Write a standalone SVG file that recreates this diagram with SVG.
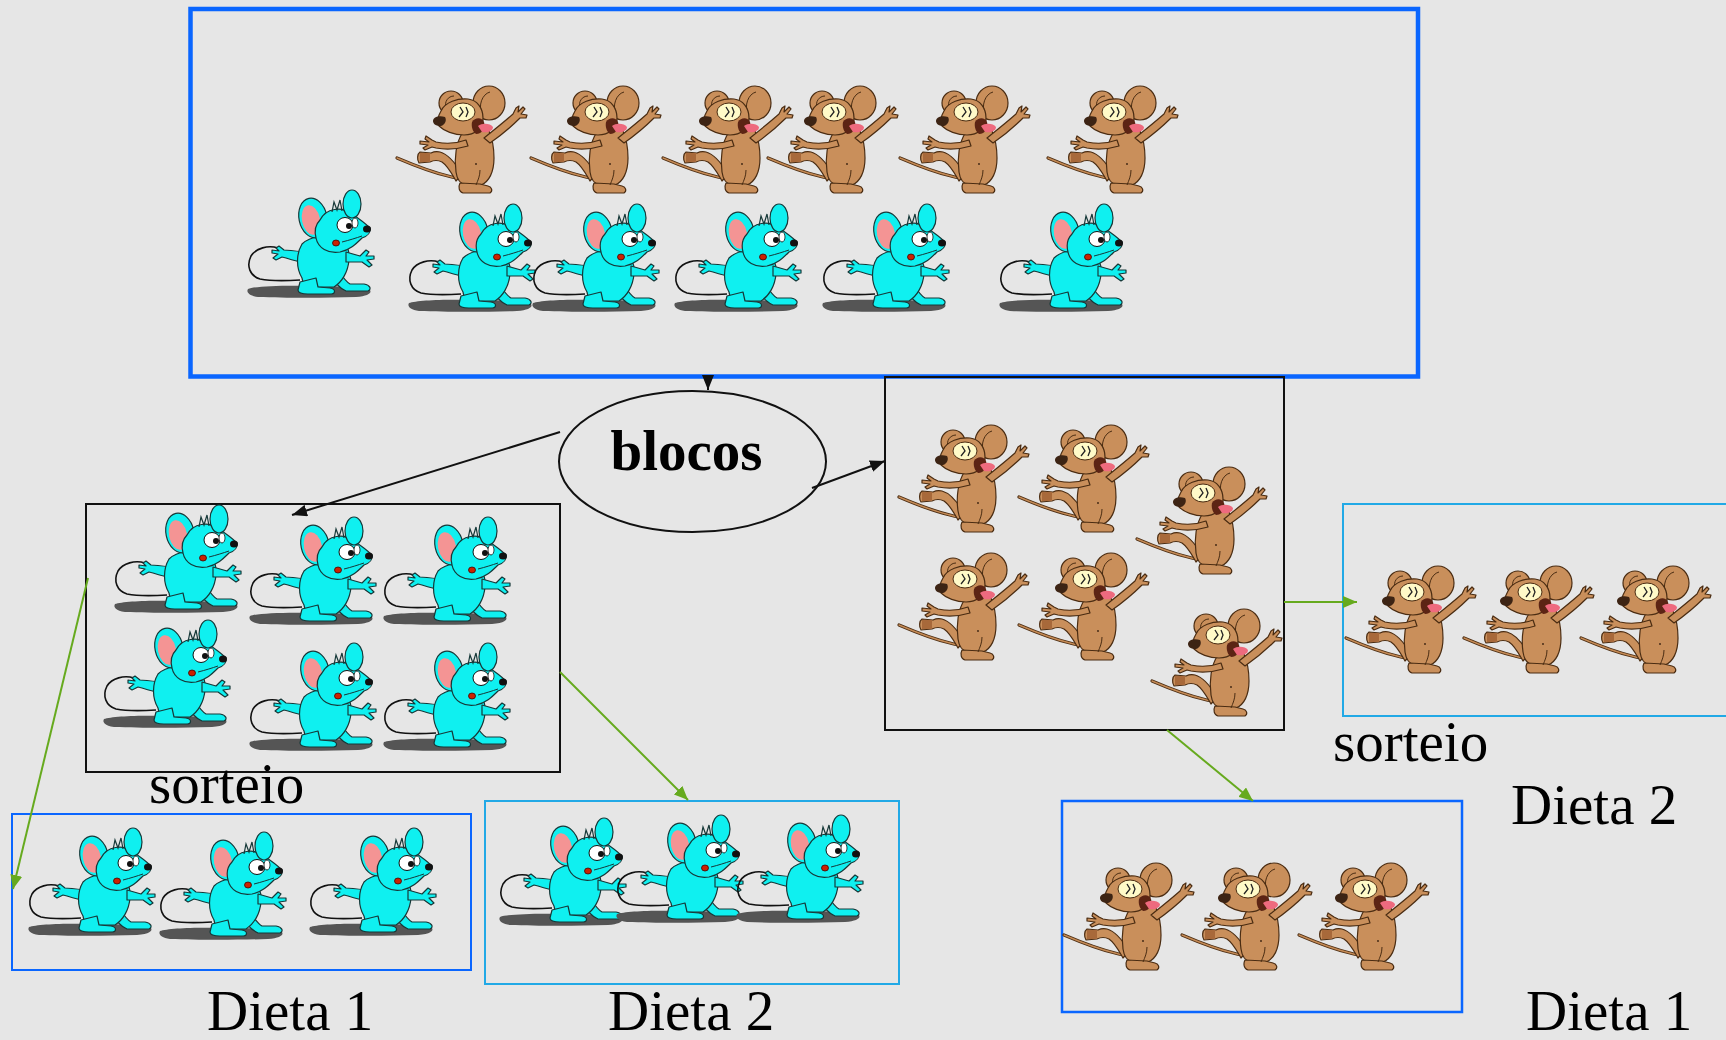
<svg xmlns="http://www.w3.org/2000/svg" xmlns:xlink="http://www.w3.org/1999/xlink" width="1726" height="1040" viewBox="0 0 1726 1040">
<style>
.bg{fill:#e6e6e6}
.bluebox{fill:none;stroke:#0a66ff}
.lightbox{fill:none;stroke:#22a9e6;stroke-width:2}
.blackbox{fill:none;stroke:#111;stroke-width:2}
.blk{stroke:#111;stroke-width:2;fill:none}
.grn{stroke:#66aa1e;stroke-width:2;fill:none}
.lbl{font-family:"Liberation Serif","Times New Roman",serif;font-size:57px;fill:#000}
.bold{font-weight:bold}
.rb{fill:#c98f5b;stroke:#4a2c12;stroke-width:1.2;stroke-linejoin:round}
.mc{fill:#0ff0f0;stroke:#163838;stroke-width:1.2;stroke-linejoin:round}
</style>
<defs>
<marker id="ab" markerUnits="userSpaceOnUse" markerWidth="15" markerHeight="12" viewBox="0 0 15 12" refX="15" refY="6" orient="auto"><path d="M0,0 L15,6 L0,12 Z" fill="#111"/></marker>
<marker id="ag" markerUnits="userSpaceOnUse" markerWidth="14" markerHeight="12" viewBox="0 0 14 12" refX="14" refY="6" orient="auto"><path d="M0,0 L14,6 L0,12 Z" fill="#66aa1e"/></marker>
<g id="rat">
<path d="M1,72 C15,78 35,86 52,90 C58,92 64,92 68,90" fill="none" stroke="#4a2c12" stroke-width="3.2" stroke-linecap="round"/>
<path d="M1,72 C15,78 35,86 52,90 C58,92 64,92 68,90" fill="none" stroke="#c48a55" stroke-width="1.4" stroke-linecap="round"/>
<path class="rb" d="M66,88 C60,78 52,68 44,66 C40,65 37,66 35,67 L24,66 C21,68 21,74 23,77 L34,76 C38,74 42,74 46,76 C52,80 56,88 60,95 Z"/>
<path d="M24,67 L34,67 L34,76 L24,76 Z" fill="#a8693a"/>
<path class="rb" d="M67,46 C60,56 58,72 60,86 C61,94 65,98 70,99 L85,99 C93,96 98,86 98,72 C98,62 96,52 93,45 C85,42 74,42 67,46 Z"/>
<path class="rb" d="M64,97 C62,101 63,106 67,107 L94,107 C97,105 96,101 92,100 L84,98 Z"/>
<path d="M80,99 C82,94 84,90 84,84" fill="none" stroke="#4a2c12" stroke-width="1"/>
<path class="rb" d="M70,54 C62,57 50,58 40,56 L36,54 L30,50 L29,53 L33,56 L24,55 L24,58 L32,59 L27,62 L29,64 L36,61 L40,62 C50,64 62,63 72,60 Z"/>
<path class="rb" d="M88,52 C98,44 108,36 117,28 L120,22 L123,20 L122,26 L127,21 L129,23 L125,28 L131,29 L130,32 L124,32 C116,40 104,50 94,57 Z"/>
<circle class="rb" cx="55" cy="17" r="12"/>
<path d="M50,22 C48,16 52,10 58,10" fill="none" stroke="#4a2c12" stroke-width="1"/>
<ellipse class="rb" cx="93" cy="17" rx="16" ry="17"/>
<path d="M86,28 C82,20 86,8 94,6" fill="none" stroke="#4a2c12" stroke-width="1"/>
<path class="rb" d="M45,25 C49,16 62,12 72,13 C81,14 87,22 87,32 C87,42 79,49 68,49 C58,49 48,45 43,40 C41,36 42,30 45,25 Z"/>
<path d="M37,35 C37,31 43,29 49,31 C51,34 49,39 45,40 C40,40 37,38 37,35 Z" fill="#3d2414"/>
<ellipse cx="67" cy="26" rx="12" ry="9" fill="#fffac8" stroke="#4a2c12" stroke-width="1"/>
<path d="M64,21 L67,26 L63,31 M70,21 L72,26 L70,31" fill="none" stroke="#222" stroke-width="1.3"/>
<path d="M76,36 C79,31 86,31 88,36 C90,42 86,48 80,48 C77,46 75,41 76,36 Z" fill="#5c2414"/>
<path d="M82,40 C86,37 94,37 97,41 C97,45 92,47 86,46 Z" fill="#ee6a7e"/>
<circle cx="80" cy="78" r="0.9" fill="#3a2210"/>
</g>
<g id="mouse">
<path d="M2,99 C10,96 40,95 70,96 C95,96 115,97 124,100 C126,103 122,106 110,107 C80,108 40,108 12,107 C3,106 0,102 2,99 Z" fill="#555"/>
<path d="M32,58 C22,55 10,58 5,66 C0,76 4,86 14,89 C24,91 38,91 54,90" fill="none" stroke="#111" stroke-width="1.6"/>
<path class="mc" d="M58,62 C50,61 42,60 38,60 L33,56 L30,58 L33,61 L26,60 L26,63 L32,64 L27,68 L30,70 L36,67 L40,68 C46,70 52,72 58,72 Z"/>
<path class="mc" d="M92,80 C96,86 100,92 104,94 L118,94 C124,95 126,99 122,101 L100,101 C94,98 88,92 86,86 Z"/>
<path class="mc" d="M56,54 C50,64 50,78 56,88 L58,97 L88,97 C96,92 102,82 103,70 C104,60 100,52 94,48 C82,44 64,46 56,54 Z"/>
<path class="mc" d="M54,92 L52,100 C52,103 56,104 62,104 L84,104 C90,104 90,99 84,98 L72,97 L70,88 Z"/>
<path class="mc" d="M100,62 L114,66 L120,60 L123,62 L120,66 L128,66 L128,69 L121,70 L126,75 L123,77 L116,72 L100,72 Z"/>
<ellipse class="mc" cx="67" cy="28" rx="14" ry="20" transform="rotate(-12 67 28)"/>
<ellipse cx="65" cy="30" rx="9" ry="15" transform="rotate(-12 65 30)" fill="#f49494"/>
<path class="mc" d="M74,30 C80,18 96,16 106,24 C112,28 118,32 124,38 C125,42 122,46 116,48 C110,54 104,60 94,62 C82,64 72,58 70,48 C68,40 70,34 74,30 Z"/>
<ellipse class="mc" cx="106" cy="14" rx="9" ry="14"/>
<path d="M86,22 L88,12 L91,20 L94,10 L96,21" fill="none" stroke="#163838" stroke-width="1.2"/>
<ellipse cx="99" cy="35" rx="8" ry="7.5" fill="#fff" stroke="#111" stroke-width="1"/>
<ellipse cx="109" cy="33" rx="3" ry="5" fill="#fff" stroke="#111" stroke-width="0.8"/>
<circle cx="103" cy="36" r="3" fill="#111"/>
<ellipse cx="121" cy="39" rx="4" ry="3.5" fill="#111"/>
<ellipse cx="90" cy="53" rx="3.5" ry="3" fill="#cc2200" stroke="#400" stroke-width="0.8"/>
<path d="M96,52 C104,50 110,48 116,46" fill="none" stroke="#163838" stroke-width="1"/>
</g>
</defs>
<rect class="bg" x="0" y="0" width="1726" height="1040"/>

<g id="population">
<rect class="bluebox" x="190.5" y="9" width="1227.5" height="367.5" stroke-width="4.5"/>
<use xlink:href="#rat" x="396" y="86"/>
<use xlink:href="#rat" x="530" y="86"/>
<use xlink:href="#rat" x="662" y="86"/>
<use xlink:href="#rat" x="767" y="86"/>
<use xlink:href="#rat" x="899" y="86"/>
<use xlink:href="#rat" x="1047" y="86"/>
<use xlink:href="#mouse" x="246" y="190"/>
<use xlink:href="#mouse" x="407" y="204"/>
<use xlink:href="#mouse" x="531" y="204"/>
<use xlink:href="#mouse" x="673" y="204"/>
<use xlink:href="#mouse" x="821" y="204"/>
<use xlink:href="#mouse" x="998" y="204"/>
</g>

<g id="blocos">
<ellipse cx="692.5" cy="461.5" rx="133.5" ry="70.5" fill="none" stroke="#111" stroke-width="2"/>
<text class="lbl bold" x="686.5" y="470" text-anchor="middle">blocos</text>
</g>

<g id="block-cyan">
<rect class="blackbox" x="86" y="504" width="474" height="268"/>
<use xlink:href="#mouse" x="113" y="505"/>
<use xlink:href="#mouse" x="248" y="517"/>
<use xlink:href="#mouse" x="382" y="517"/>
<use xlink:href="#mouse" x="102" y="620"/>
<use xlink:href="#mouse" x="248" y="643"/>
<use xlink:href="#mouse" x="382" y="643"/>
<text class="lbl" x="149" y="803">sorteio</text>
</g>

<g id="block-brown">
<rect class="blackbox" x="885" y="377" width="399" height="353"/>
<use xlink:href="#rat" x="898" y="425"/>
<use xlink:href="#rat" x="1018" y="425"/>
<use xlink:href="#rat" x="1136" y="467"/>
<use xlink:href="#rat" x="898" y="553"/>
<use xlink:href="#rat" x="1018" y="553"/>
<use xlink:href="#rat" x="1151" y="609"/>
<text class="lbl" x="1333" y="761">sorteio</text>
</g>

<g id="cyan-dieta1">
<rect class="bluebox" x="12" y="814" width="459" height="156" stroke-width="2"/>
<use xlink:href="#mouse" x="27" y="828"/>
<use xlink:href="#mouse" x="158" y="832"/>
<use xlink:href="#mouse" x="308" y="828"/>
<text class="lbl" x="207" y="1030">Dieta 1</text>
</g>

<g id="cyan-dieta2">
<rect class="lightbox" x="485" y="801" width="414" height="183"/>
<use xlink:href="#mouse" x="498" y="818"/>
<use xlink:href="#mouse" x="615" y="815"/>
<use xlink:href="#mouse" x="735" y="815"/>
<text class="lbl" x="608" y="1030">Dieta 2</text>
</g>

<g id="brown-dieta2">
<rect class="lightbox" x="1343" y="504" width="420" height="212"/>
<use xlink:href="#rat" x="1345" y="566"/>
<use xlink:href="#rat" x="1463" y="566"/>
<use xlink:href="#rat" x="1580" y="566"/>
<text class="lbl" x="1511" y="824">Dieta 2</text>
</g>

<g id="brown-dieta1">
<rect class="bluebox" x="1062" y="801" width="400" height="211" stroke-width="2.5"/>
<use xlink:href="#rat" x="1063" y="863"/>
<use xlink:href="#rat" x="1181" y="863"/>
<use xlink:href="#rat" x="1298" y="863"/>
<text class="lbl" x="1526" y="1030">Dieta 1</text>
</g>

<g id="connectors">
<line class="blk" x1="708" y1="376" x2="708" y2="390" marker-end="url(#ab)"/>
<line class="blk" x1="560" y1="432" x2="292" y2="515" marker-end="url(#ab)"/>
<line class="blk" x1="812" y1="488" x2="885" y2="461" marker-end="url(#ab)"/>
<line class="grn" x1="88" y1="578" x2="13" y2="889" marker-end="url(#ag)"/>
<line class="grn" x1="560" y1="672" x2="688" y2="800" marker-end="url(#ag)"/>
<line class="grn" x1="1284" y1="602" x2="1357" y2="602" marker-end="url(#ag)"/>
<line class="grn" x1="1167" y1="730" x2="1253" y2="801" marker-end="url(#ag)"/>
</g>
</svg>
